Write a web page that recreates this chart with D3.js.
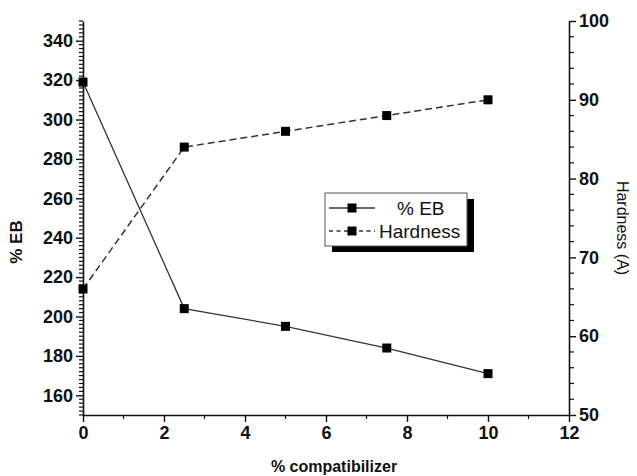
<!DOCTYPE html>
<html>
<head>
<meta charset="utf-8">
<script src="https://cdn.jsdelivr.net/npm/d3@7"></script>
<style>
  html, body { margin: 0; padding: 0; background: #fff; }
  svg { display: block; font-family: "Liberation Sans", Arial, sans-serif; }
</style>
</head>
<body>
<svg id="chart" width="637" height="476"></svg>
<script>
// % compatibilizer loadings
const compatibilizer = [0, 2.5, 5, 7.5, 10];
// elongation at break (%)
const elongationAtBreak = [319, 204, 195, 184, 171];
// Shore hardness (A)
const hardness = [66, 84, 86, 88, 90];

const xTicks = [0, 2, 4, 6, 8, 10, 12];
const leftTicks = [160, 180, 200, 220, 240, 260, 280, 300, 320, 340];
const rightTicks = [50, 60, 70, 80, 90, 100];

const svg = d3.select("#chart");
const plot = { left: 83, right: 569, top: 21, bottom: 415 };

const x = d3.scaleLinear().domain([0, 12]).range([plot.left, plot.right]);
const yL = d3.scaleLinear().domain([150, 350]).range([plot.bottom, plot.top]);
const yR = d3.scaleLinear().domain([50, 100]).range([plot.bottom, plot.top]);

const ink = "#111";
const lineInk = "#333";

// minor ticks
const gMinor = svg.append("g").attr("stroke", ink).attr("stroke-width", 1.2);
d3.range(150, 351, 2).filter(v => v % 20 !== 0).forEach(v => {
  gMinor.append("line").attr("x1", plot.left - 4).attr("x2", plot.left)
    .attr("y1", yL(v)).attr("y2", yL(v));
});
d3.range(50, 101, 2).filter(v => v % 10 !== 0).forEach(v => {
  gMinor.append("line").attr("x1", plot.right).attr("x2", plot.right + 5)
    .attr("y1", yR(v)).attr("y2", yR(v));
});
d3.range(1, 12, 2).forEach(v => {
  gMinor.append("line").attr("x1", x(v)).attr("x2", x(v))
    .attr("y1", plot.bottom).attr("y2", plot.bottom + 4);
});

// axes
const axisStyle = g => {
  g.select(".domain").attr("stroke", ink).attr("stroke-width", 1.6);
  g.selectAll(".tick line").attr("stroke", ink).attr("stroke-width", 1.4);
  g.selectAll(".tick text").attr("fill", ink)
    .style("font-size", "18px").style("font-weight", "bold");
};

svg.append("g")
  .attr("transform", `translate(0,${plot.bottom})`)
  .call(d3.axisBottom(x).tickValues(xTicks).tickFormat(d3.format("d")).tickSize(7).tickSizeOuter(0).tickPadding(4))
  .call(axisStyle);

svg.append("g")
  .attr("transform", `translate(${plot.left},0)`)
  .call(d3.axisLeft(yL).tickValues(leftTicks).tickFormat(d3.format("d")).tickSize(7).tickSizeOuter(0).tickPadding(3))
  .call(axisStyle);

svg.append("g")
  .attr("transform", `translate(${plot.right},0)`)
  .call(d3.axisRight(yR).tickValues(rightTicks).tickFormat(d3.format("d")).tickSize(7).tickSizeOuter(0).tickPadding(3))
  .call(axisStyle);

// axis titles
svg.append("text")
  .attr("x", (plot.left + plot.right) / 2 + 8).attr("y", 472)
  .attr("text-anchor", "middle").attr("fill", ink)
  .style("font-size", "16px").style("font-weight", "bold")
  .text("% compatibilizer");

svg.append("text")
  .attr("transform", `translate(22,${(plot.top + plot.bottom) / 2 + 24}) rotate(-90)`)
  .attr("text-anchor", "middle").attr("fill", ink)
  .style("font-size", "17px").style("font-weight", "bold")
  .text("% EB");

svg.append("text")
  .attr("transform", `translate(617,${(plot.top + plot.bottom) / 2 + 10}) rotate(90)`)
  .attr("text-anchor", "middle").attr("fill", ink)
  .style("font-size", "16px")
  .text("Hardness (A)");

// series
const ebData = compatibilizer.map((c, i) => ({ x: c, y: elongationAtBreak[i] }));
const hdData = compatibilizer.map((c, i) => ({ x: c, y: hardness[i] }));

svg.append("path").datum(ebData)
  .attr("fill", "none").attr("stroke", lineInk).attr("stroke-width", 1.3)
  .attr("d", d3.line().x(d => x(d.x)).y(d => yL(d.y)));

svg.append("path").datum(hdData)
  .attr("fill", "none").attr("stroke", lineInk).attr("stroke-width", 1.5)
  .attr("stroke-dasharray", "7,4")
  .attr("d", d3.line().x(d => x(d.x)).y(d => yR(d.y)));

const sq = 9;
svg.append("g").selectAll("rect").data(ebData).join("rect")
  .attr("x", d => x(d.x) - sq / 2).attr("y", d => yL(d.y) - sq / 2)
  .attr("width", sq).attr("height", sq).attr("fill", "#000");
svg.append("g").selectAll("rect").data(hdData).join("rect")
  .attr("x", d => x(d.x) - sq / 2).attr("y", d => yR(d.y) - sq / 2)
  .attr("width", sq).attr("height", sq).attr("fill", "#000");

// legend
const lg = svg.append("g");
const lb = { x: 325, y: 193, w: 142, h: 53 };
lg.append("rect").attr("x", lb.x + 7).attr("y", lb.y + 6).attr("width", lb.w).attr("height", lb.h).attr("fill", "#000");
lg.append("rect").attr("x", lb.x).attr("y", lb.y).attr("width", lb.w).attr("height", lb.h)
  .attr("fill", "#fff").attr("stroke", "#555").attr("stroke-width", 1);
const entries = [
  { label: "% EB", dash: null, tx: 397 },
  { label: "Hardness", dash: "4,3.5", tx: 379 }
];
entries.forEach((e, i) => {
  const cy = lb.y + 15 + i * 23;
  lg.append("line").attr("x1", lb.x + 4).attr("x2", lb.x + 50).attr("y1", cy).attr("y2", cy)
    .attr("stroke", lineInk).attr("stroke-width", 1.3).attr("stroke-dasharray", e.dash);
  lg.append("rect").attr("x", lb.x + 27 - 4.5).attr("y", cy - 4.5).attr("width", sq).attr("height", sq).attr("fill", "#000");
  lg.append("text").attr("x", e.tx).attr("y", cy + 7).attr("fill", ink)
    .style("font-size", "19px").text(e.label);
});
</script>
</body>
</html>
